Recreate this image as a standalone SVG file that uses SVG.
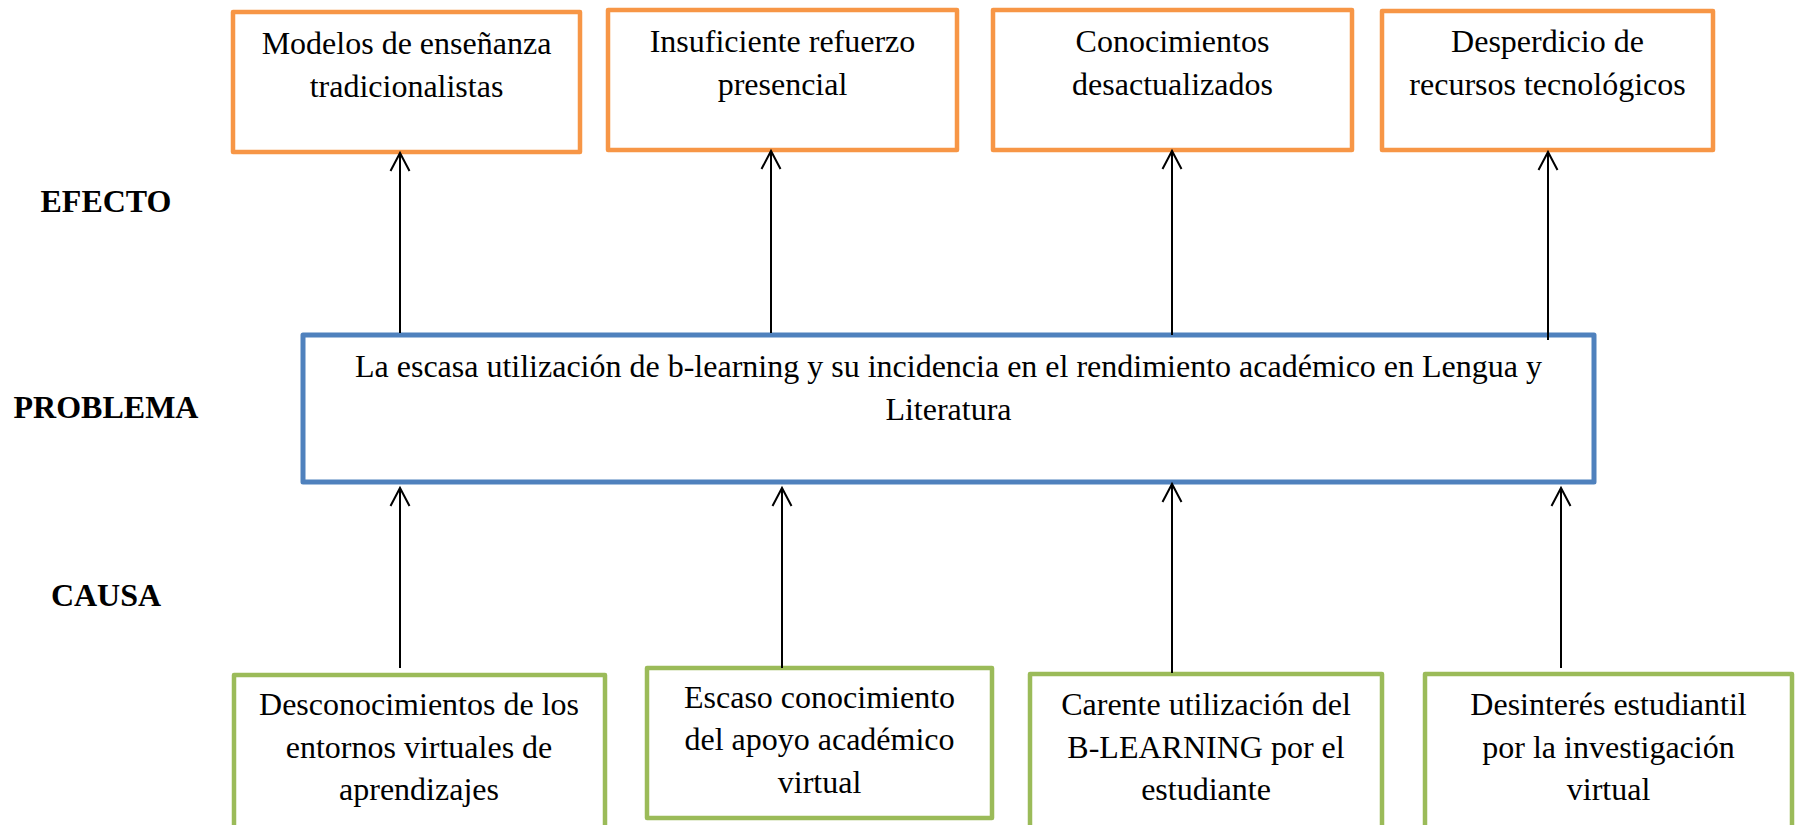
<svg xmlns="http://www.w3.org/2000/svg" width="1797" height="825" viewBox="0 0 1797 825">
<defs>
<style>
.t{font-family:"Liberation Serif","Times New Roman",serif;font-size:32px;fill:#000;text-anchor:middle}
.lb{font-family:"Liberation Serif","Times New Roman",serif;font-size:32px;font-weight:bold;fill:#000;text-anchor:middle}
.ef{fill:#fff;stroke:#F79646;stroke-width:4.5;stroke-linejoin:round}
.pr{fill:#fff;stroke:#4F81BD;stroke-width:5;stroke-linejoin:round}
.ca{fill:#fff;stroke:#9BBB59;stroke-width:4.5;stroke-linejoin:round}
.ar{stroke:#000;stroke-width:2;fill:none;marker-end:url(#ah)}
</style>
<marker id="ah" markerUnits="userSpaceOnUse" orient="auto" refX="0" refY="0" markerWidth="30" markerHeight="30" overflow="visible">
<path d="M-18,-9.5 L0,0 L-18,9.5" fill="none" stroke="#000" stroke-width="2"/>
</marker>
</defs>
<rect width="1797" height="825" fill="#fff"/>

<g id="labels">
<text class="lb" x="106" y="212">EFECTO</text>
<text class="lb" x="106" y="418">PROBLEMA</text>
<text class="lb" x="106" y="606">CAUSA</text>
</g>

<g id="efecto1">
<rect class="ef" x="233" y="12" width="347" height="140"/>
<text class="t" x="406.5" y="54">Modelos de enseñanza</text>
<text class="t" x="406.5" y="97">tradicionalistas</text>
</g>
<g id="efecto2">
<rect class="ef" x="608" y="10" width="349" height="140"/>
<text class="t" x="782.5" y="52">Insuficiente refuerzo</text>
<text class="t" x="782.5" y="95">presencial</text>
</g>
<g id="efecto3">
<rect class="ef" x="993" y="10" width="359" height="140"/>
<text class="t" x="1172.5" y="52">Conocimientos</text>
<text class="t" x="1172.5" y="95">desactualizados</text>
</g>
<g id="efecto4">
<rect class="ef" x="1382" y="11" width="331" height="139"/>
<text class="t" x="1547.5" y="52">Desperdicio de</text>
<text class="t" x="1547.5" y="95">recursos tecnológicos</text>
</g>

<g id="problema">
<rect class="pr" x="303" y="335" width="1291" height="147"/>
<text class="t" x="948.5" y="377">La escasa utilización de b-learning y su incidencia en el rendimiento académico en Lengua y</text>
<text class="t" x="948.5" y="420">Literatura</text>
</g>

<g id="causa1">
<rect class="ca" x="234" y="675" width="371" height="155"/>
<text class="t" x="419" y="715">Desconocimientos de los</text>
<text class="t" x="419" y="758">entornos virtuales de</text>
<text class="t" x="419" y="800">aprendizajes</text>
</g>
<g id="causa2">
<rect class="ca" x="647" y="668" width="345" height="150"/>
<text class="t" x="819.5" y="708">Escaso conocimiento</text>
<text class="t" x="819.5" y="750">del apoyo académico</text>
<text class="t" x="819.5" y="793">virtual</text>
</g>
<g id="causa3">
<rect class="ca" x="1030" y="674" width="352" height="156"/>
<text class="t" x="1206" y="715">Carente utilización del</text>
<text class="t" x="1206" y="758">B-LEARNING por el</text>
<text class="t" x="1206" y="800">estudiante</text>
</g>
<g id="causa4">
<rect class="ca" x="1425" y="674" width="367" height="156"/>
<text class="t" x="1608.5" y="715">Desinterés estudiantil</text>
<text class="t" x="1608.5" y="758">por la investigación</text>
<text class="t" x="1608.5" y="800">virtual</text>
</g>

<g id="connectors">
<line class="ar" x1="400" y1="333" x2="400" y2="153"/>
<line class="ar" x1="771" y1="333" x2="771" y2="151"/>
<line class="ar" x1="1172" y1="335" x2="1172" y2="151"/>
<line class="ar" x1="1548" y1="340" x2="1548" y2="152"/>
<line class="ar" x1="400" y1="668" x2="400" y2="488"/>
<line class="ar" x1="782" y1="668" x2="782" y2="488"/>
<line class="ar" x1="1172" y1="673" x2="1172" y2="484"/>
<line class="ar" x1="1561" y1="668" x2="1561" y2="488"/>
</g>
</svg>
